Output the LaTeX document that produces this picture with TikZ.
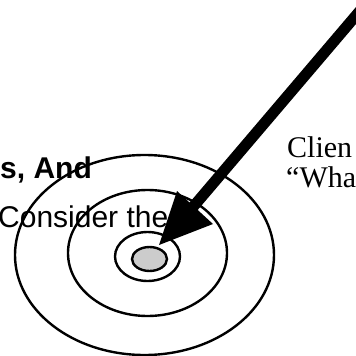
\documentclass[tikz,border=0pt]{standalone}
\usepackage{fontspec}
\setmainfont{Liberation Serif}
\newfontfamily\arialfont{Liberation Sans}
\begin{document}
\begin{tikzpicture}[x=1bp,y=-1bp,
  ring/.style={draw=black,line width=2.4bp},
  sanslabel/.style={anchor=base west,inner sep=0pt,font=\arialfont\fontsize{30bp}{34bp}\selectfont},
  seriflabel/.style={anchor=base west,inner sep=0pt,font=\fontsize{30bp}{34bp}\selectfont},
  shaft/.style={draw=black,line width=11bp,line cap=butt},
  head/.style={fill=black}]
\useasboundingbox (0,0) rectangle (356,356);
\clip (0,0) rectangle (356,356);
\fill[white] (0,0) rectangle (356,356);
% texts
\node[sanslabel,font=\arialfont\bfseries\fontsize{30bp}{34bp}\selectfont] (t1) at (0,178) {s, And};
\node[sanslabel] (t2) at (-2,227) {Consider the};
\node[seriflabel] (t3) at (287,157) {Clien};
\node[seriflabel] (t4) at (286,187) {“Wha};
% target rings
\coordinate (c1) at (144.5,255);
\coordinate (c2) at (147.5,253);
\coordinate (c3) at (147.5,256.5);
\coordinate (c4) at (149.5,259);
\draw[ring] (c1) ellipse [x radius=129.5, y radius=100];
\draw[ring] (c2) ellipse [x radius=79.5, y radius=63];
\draw[ring] (c3) ellipse [x radius=32.5, y radius=24.5];
\draw[ring,fill=black!20] (c4) ellipse [x radius=17.5, y radius=12];
% arrow
\coordinate (tip) at (159,245);
\coordinate (hl) at (177,191);
\coordinate (hr) at (213,224);
\coordinate (hb) at (193,207);
\coordinate (tail) at (376,-8);
\draw[shaft] (tail) -- (hb);
\fill[head] (tip) -- (hl) -- (hr) -- cycle;
\end{tikzpicture}
\end{document}
